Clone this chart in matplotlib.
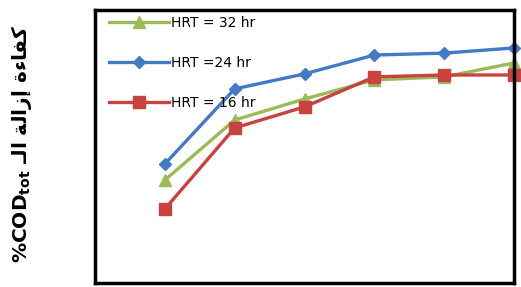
import numpy as np
import matplotlib
matplotlib.use('Agg')
import matplotlib.pyplot as plt

plt.rcParams['font.family'] = ['DejaVu Sans', 'Noto Sans']

# data (removal efficiency %, no ticks shown on the chart)
steps = [1, 2, 3, 4, 5, 6]
hrt_32 = [37.7, 59.7, 67.4, 74.4, 75.5, 80.6]
hrt_24 = [43.6, 71.1, 76.6, 83.5, 84.2, 86.1]
hrt_16 = [27.1, 56.8, 64.5, 75.5, 76.2, 76.2]

labels = ['HRT = 32 hr', 'HRT =24 hr', 'HRT = 16 hr']
colors = ['#9BBB59', '#4479C4', '#C8423F']
markers = ['^', 'D', 's']
sizes = [8, 6.5, 9]

# arabic part, shaped forms in visual order (matplotlib does no bidi)
arabic = '\u0640\uFEDF\uFE8D \uFE94\uFEDF\uFE8D\uFEAF\uFE87 \uFE93\uFE80\uFE8E\uFED4\uFEDB'

fig = plt.figure(figsize=(5.21, 2.87), dpi=100)
ax = fig.add_axes([95/521, 4/287, 419/521, 273/287])

for ys, c, m, ms, lab in zip([hrt_32, hrt_24, hrt_16], colors, markers, sizes, labels):
    ax.plot(steps, ys, color=c, marker=m, markersize=ms, linewidth=2.4,
            label=lab, clip_on=False)

ax.set_xlim(0.0, 6.0)
ax.set_ylim(0, 100)
ax.set_xticks([])
ax.set_yticks([])
for s in ax.spines.values():
    s.set_linewidth(2.5)
    s.set_color('black')

ax.legend(loc='upper left', frameon=False, fontsize=10, handlelength=4.3,
          labelspacing=1.9, handletextpad=0.15, borderaxespad=0.0,
          bbox_to_anchor=(0.02, 1.0))

fig.text(22/521, 0.5, r'%COD$_{\mathbf{tot}}$ ' + arabic, rotation=90,
         ha='center', va='center', fontsize=14.5, fontweight='bold')

fig.savefig('out.png', dpi=100)
